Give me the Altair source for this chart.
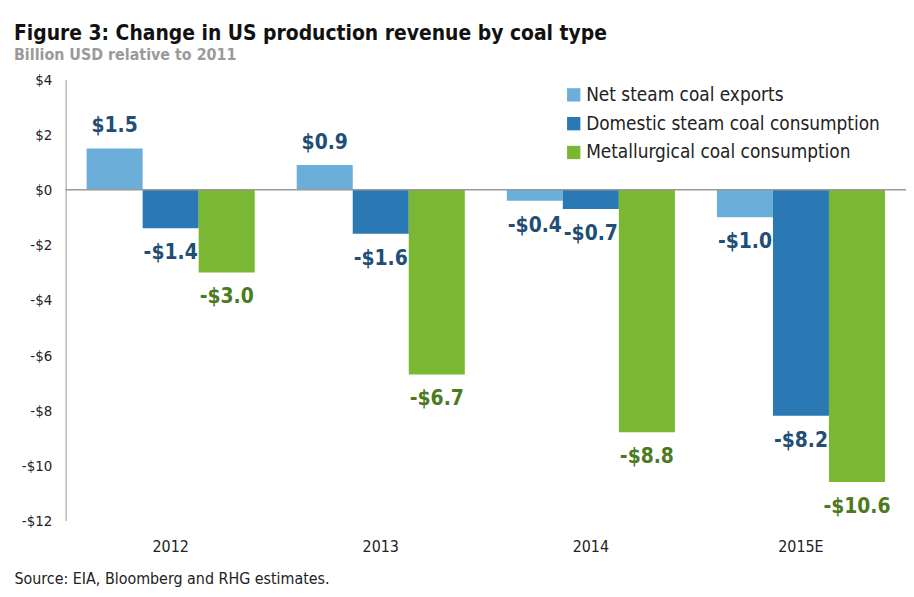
import altair as alt
import pandas as pd

years = ["2012", "2013", "2014", "2015E"]
series = ["Net steam coal exports", "Domestic steam coal consumption", "Metallurgical coal consumption"]
net_exports = [1.5, 0.9, -0.4, -1.0]
domestic = [-1.4, -1.6, -0.7, -8.2]
metallurgical = [-3.0, -6.7, -8.8, -10.6]

bar_colors = ["#6aaed9", "#2b79b4", "#7ab833"]
label_colors = ["#1f4e76", "#1f4e76", "#4b7b1e"]

rows = []
for vals, s, lc in zip([net_exports, domestic, metallurgical], series, label_colors):
    for y, v in zip(years, vals):
        lab = ("-$" if v < 0 else "$") + f"{abs(v):.1f}"
        rows.append({"year": y, "series": s, "value": v, "label": lab, "lcolor": lc})
df = pd.DataFrame(rows)

FONT = "'DejaVu Sans Condensed', 'Roboto Condensed', 'Liberation Sans Narrow', Roboto, sans-serif"
W, H = 846, 444

base = alt.Chart(df)

x_enc = alt.X(
    "year:N",
    sort=years,
    scale=alt.Scale(paddingInner=0.2, paddingOuter=0.1),
    axis=alt.Axis(
        title="Source: EIA, Bloomberg and RHG estimates.",
        titleAnchor="start",
        titleAlign="left",
        titleX=-52,
        titleY=50,
        titleFont=FONT,
        titleFontSize=16,
        titleFontWeight="normal",
        titleColor="#222222",
        labelAngle=0,
        labelFont=FONT,
        labelFontSize=16,
        labelColor="#222222",
        labelPadding=18,
        domain=False,
        ticks=False,
    ),
)
y_enc = alt.Y(
    "value:Q",
    scale=alt.Scale(domain=[-12, 4], nice=False),
    axis=alt.Axis(
        title=None,
        values=list(range(-12, 5, 2)),
        labelExpr="datum.value < 0 ? '-$' + abs(datum.value) : '$' + datum.value",
        labelFont=FONT,
        labelFontSize=15,
        labelColor="#222222",
        labelPadding=14,
        domainColor="#999999",
        ticks=False,
        grid=False,
    ),
)

bars = base.mark_bar().encode(
    x=x_enc,
    xOffset=alt.XOffset("series:N", sort=series),
    y=y_enc,
    color=alt.Color(
        "series:N",
        sort=series,
        scale=alt.Scale(domain=series, range=bar_colors),
        legend=alt.Legend(
            title=None,
            orient="none",
            legendX=502,
            legendY=6,
            symbolType="square",
            symbolSize=180,
            symbolStrokeWidth=0,
            labelFont=FONT,
            labelFontSize=19,
            labelColor="#222222",
            labelLimit=400,
            rowPadding=9,
            labelOffset=3,
        ),
    ),
)

pos_labels = base.transform_filter("datum.value >= 0").mark_text(
    font=FONT, fontSize=21, fontWeight="bold", baseline="bottom", dy=-12
).encode(
    x=alt.X("year:N", sort=years),
    xOffset=alt.XOffset("series:N", sort=series),
    y="value:Q",
    text="label:N",
    color=alt.Color("lcolor:N", scale=None),
)

neg_labels = base.transform_filter("datum.value < 0").mark_text(
    font=FONT, fontSize=21, fontWeight="bold", baseline="top", dy=14
).encode(
    x=alt.X("year:N", sort=years),
    xOffset=alt.XOffset("series:N", sort=series),
    y="value:Q",
    text="label:N",
    color=alt.Color("lcolor:N", scale=None),
)

zero = alt.Chart(pd.DataFrame({"z": [0]})).mark_rule(color="#999999", strokeWidth=1.5).encode(
    y=alt.Y("z:Q")
)

chart = (
    alt.layer(bars, zero, pos_labels, neg_labels)
    .properties(
        width=W,
        height=H,
        autosize=alt.AutoSizeParams(type="none"),
        padding={"left": 58, "top": 70, "right": 0, "bottom": 70},
        background="#ffffff",
        title=alt.TitleParams(
            text="Figure 3: Change in US production revenue by coal type",
            subtitle="Billion USD relative to 2011",
            anchor="start",
            frame="group",
            dx=-52,
            offset=10,
            font=FONT,
            fontSize=21,
            fontWeight="bold",
            color="#111111",
            subtitleFont=FONT,
            subtitleFontSize=16,
            subtitleFontWeight="bold",
            subtitleColor="#9a9a9a",
            subtitlePadding=3,
        ),
    )
    .configure_view(stroke=None)
)

chart.save("out.html", embed_options={"renderer": "svg", "actions": False})
